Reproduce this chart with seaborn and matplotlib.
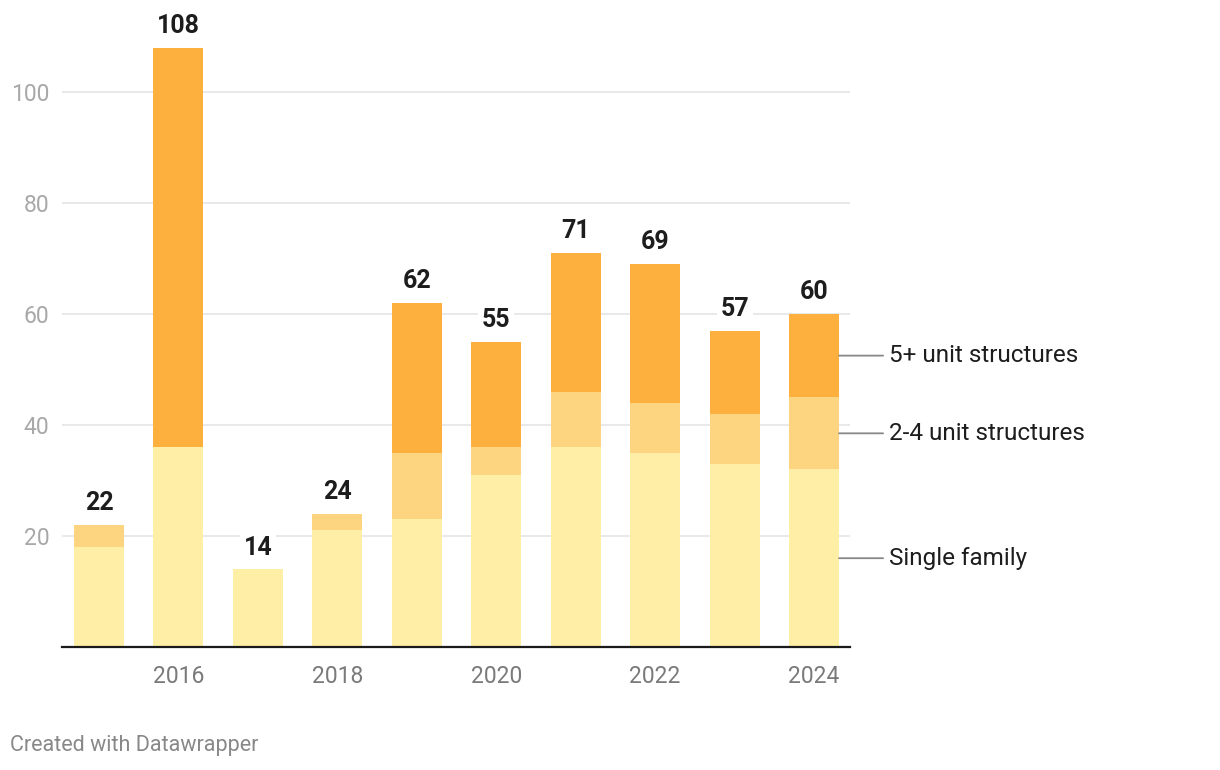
import matplotlib
matplotlib.use("Agg")
import matplotlib.pyplot as plt
import seaborn as sns
import pandas as pd

# Data
years = [2015, 2016, 2017, 2018, 2019, 2020, 2021, 2022, 2023, 2024]
single_family = [18, 36, 14, 21, 23, 31, 36, 35, 33, 32]
two_to_four = [4, 0, 0, 3, 12, 5, 10, 9, 9, 13]
five_plus = [0, 72, 0, 0, 27, 19, 25, 25, 15, 15]
series_names = ["Single family", "2-4 unit structures", "5+ unit structures"]
colors = ["#FFEFA6", "#FDD581", "#FDB03D"]

df = pd.DataFrame({
    "year": [str(y) for y in years],
    "single": single_family,
    "two_four": two_to_four,
    "five_plus": five_plus,
})
df["lvl1"] = df["single"]
df["lvl2"] = df["single"] + df["two_four"]
df["total"] = df["lvl2"] + df["five_plus"]

sns.set_style("white")
plt.rcParams["font.family"] = ["Roboto", "DejaVu Sans"]

fig = plt.figure(figsize=(12.2, 7.7), dpi=100)
ax = fig.add_axes([62 / 1220, 123 / 770, 788 / 1220, (647 - 36.5) / 770])

# stacked bars: draw tallest first, then overlay lower levels
for col, c in zip(["total", "lvl2", "lvl1"], colors[::-1]):
    sns.barplot(data=df, x="year", y=col, color=c, width=0.63,
                saturation=1, ax=ax, zorder=2, linewidth=0)

ax.set_xlim(-0.466, 9.453)
ax.set_ylim(0, 110)
ax.set_yticks([20, 40, 60, 80, 100])
ax.yaxis.grid(True, color="#e5e5e5", linewidth=1.2, zorder=0)
ax.set_axisbelow(True)
ax.set_xticks([1, 3, 5, 7, 9])
ax.set_xticklabels([str(y) for y in years[1::2]])
ax.tick_params(axis="both", length=0, labelsize=16.5)
ax.tick_params(axis="x", pad=13, labelcolor="#7a7a7a")
ax.tick_params(axis="y", pad=9, labelcolor="#a8a8a8")
ax.set_xlabel("")
ax.set_ylabel("")
for s in ["top", "right", "left"]:
    ax.spines[s].set_visible(False)
ax.spines["bottom"].set_color("#1a1a1a")
ax.spines["bottom"].set_linewidth(1.6)
ax.spines["bottom"].set_zorder(5)

# totals above bars
for i, t in enumerate(df["total"]):
    ax.annotate(str(t), (i, t), xytext=(0, 7), textcoords="offset points",
                ha="center", va="bottom", fontsize=18, fontweight="bold",
                color="#1d1d1d", zorder=6, annotation_clip=False,
                bbox=dict(boxstyle="square,pad=0.15", fc="white", ec="none"))

# direct labels for series on the last bar
last = len(years) - 1
mids = [df["lvl1"].iloc[last] / 2,
        (df["lvl1"].iloc[last] + df["lvl2"].iloc[last]) / 2,
        (df["lvl2"].iloc[last] + df["total"].iloc[last]) / 2]
for name, m in zip(series_names, mids):
    ax.annotate("", xy=(last + 0.315, m), xytext=(last + 0.87, m),
                arrowprops=dict(arrowstyle="-", color="#888888", lw=1.3,
                                shrinkA=0, shrinkB=0),
                annotation_clip=False)
    ax.annotate(name, (last + 0.95, m), ha="left", va="center", fontsize=17.5,
                color="#1d1d1d", annotation_clip=False)

fig.text(10 / 1220, 1 - 746 / 770, "Created with Datawrapper", ha="left",
         va="center", fontsize=15.5, color="#888888")

fig.savefig("out.png", dpi=100)
